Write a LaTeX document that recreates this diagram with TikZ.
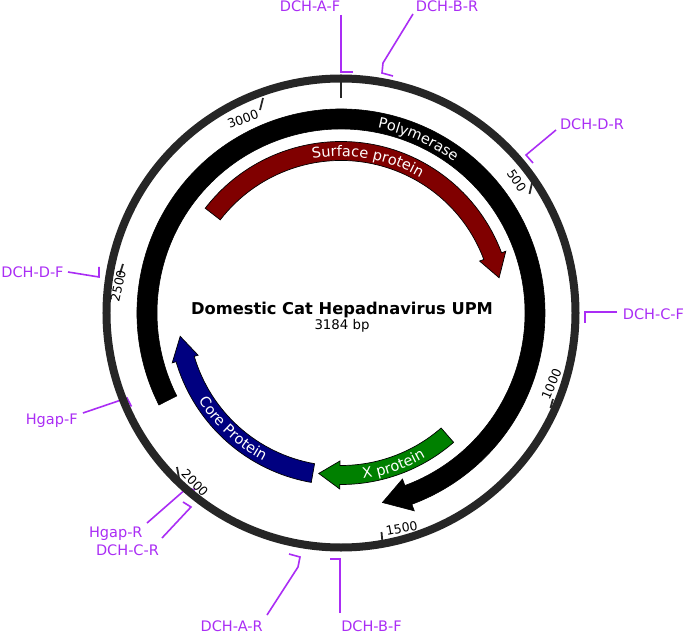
\documentclass[tikz,border=0pt]{standalone}
\usepackage{fontspec}
\setmainfont{DejaVu Sans}
\usetikzlibrary{decorations.text}
\definecolor{ringc}{HTML}{262626}
\definecolor{primc}{RGB}{170,45,245}
\definecolor{surfc}{HTML}{800000}
\definecolor{corec}{HTML}{000080}
\definecolor{xprc}{HTML}{008000}
% feature arrow: #1 style, #2 start bp, #3 end bp (unwrapped), #4 mid radius, #5 half width, #6 head half width, #7 head length (deg)
\newcommand\featarrow[7]{%
  \pgfmathsetmacro\myaS{90-(#2)/3184*360}%
  \pgfmathsetmacro\myaE{90-(#3)/3184*360}%
  \pgfmathsetmacro\myaB{\myaE+#7}%
  \pgfmathsetmacro\myrO{#4+#5}%
  \pgfmathsetmacro\myrI{#4-#5}%
  \pgfmathsetmacro\myhO{#4+#6}%
  \pgfmathsetmacro\myhI{#4-#6}%
  \draw[#1] (\myaS:\myrO) arc[start angle=\myaS, end angle=\myaB, radius=\myrO]
    -- (\myaB:\myhO) -- (\myaE:#4) -- (\myaB:\myhI) -- (\myaB:\myrI)
    arc[start angle=\myaB, end angle=\myaS, radius=\myrI] -- cycle;
}
\tikzset{
  primer/.style={draw=primc, line width=1.6pt, line join=miter},
  primlabel/.style={text=primc, font=\fontsize{14.5}{17}\selectfont, anchor=base, inner sep=0pt},
  ticklabel/.style={text=black, font=\fontsize{12.5}{15}\selectfont, inner sep=0pt},
  tickline/.style={draw=ringc, line width=2.4pt},
  featlabel/.style={decorate, decoration={text along path, text align=center, text color=white}},
}
\begin{document}
\begin{tikzpicture}[x=1pt,y=1pt]
\useasboundingbox[fill=white] (-341,-321) rectangle (344,313);
% ---------- primers (image coordinates) ----------
\begin{scope}[x=1pt, y=-1pt, shift={(-341pt,313pt)}]
  \node[primlabel] (laf) at (310,11.7) {DCH-A-F};
  \node[primlabel] (lbr) at (447,11.7) {DCH-B-R};
  \node[primlabel] (ldr) at (592,130) {DCH-D-R};
  \node[primlabel] (lcf) at (653.5,320) {DCH-C-F};
  \node[primlabel] (ldf) at (32.5,277.3) {DCH-D-F};
  \node[primlabel] (lhf) at (51.7,424) {Hgap-F};
  \node[primlabel] (lhr) at (115.8,537.7) {Hgap-R};
  \node[primlabel] (lcr) at (127.5,555) {DCH-C-R};
  \node[primlabel] (lar) at (231.7,631.5) {DCH-A-R};
  \node[primlabel] (lbf) at (371.5,631.5) {DCH-B-F};
  \coordinate (paf0) at (341,15);   \coordinate (paf1) at (341,72);  \coordinate (paf2) at (353,72);
  \coordinate (pbr0) at (413,14);   \coordinate (pbr1) at (383,63);  \coordinate (pbr2) at (382,73); \coordinate (pbr3) at (393,76);
  \coordinate (pdr0) at (556,130);  \coordinate (pdr1) at (526,155); \coordinate (pdr2) at (533,163);
  \coordinate (pcf0) at (617,312);  \coordinate (pcf1) at (585,312); \coordinate (pcf2) at (585,323);
  \coordinate (pdf0) at (68,272);   \coordinate (pdf1) at (99,277);  \coordinate (pdf2) at (99,267);
  \coordinate (phf0) at (83,413);   \coordinate (phf1) at (127,398); \coordinate (phf2) at (131.5,406.5);
  \coordinate (phr0) at (147,523);  \coordinate (phr1) at (187,488); \coordinate (phr2) at (195,490);
  \coordinate (pcr0) at (162,538);  \coordinate (pcr1) at (191,507); \coordinate (pcr2) at (183,502);
  \coordinate (par0) at (267,615);  \coordinate (par1) at (298,567); \coordinate (par2) at (300,557); \coordinate (par3) at (289,554);
  \coordinate (pbf0) at (340,613);  \coordinate (pbf1) at (340,559); \coordinate (pbf2) at (330,559);
  \draw[primer] (paf0) -- (paf1) -- (paf2);
  \draw[primer] (pbr0) -- (pbr1) -- (pbr2) -- (pbr3);
  \draw[primer] (pdr0) -- (pdr1) -- (pdr2);
  \draw[primer] (pcf0) -- (pcf1) -- (pcf2);
  \draw[primer] (pdf0) -- (pdf1) -- (pdf2);
  \draw[primer] (phf0) -- (phf1) -- (phf2);
  \draw[primer] (phr0) -- (phr1) -- (phr2);
  \draw[primer] (pcr0) -- (pcr1) -- (pcr2);
  \draw[primer] (par0) -- (par1) -- (par2) -- (par3);
  \draw[primer] (pbf0) -- (pbf1) -- (pbf2);
\end{scope}
% ---------- backbone ----------
\draw[ringc, line width=8pt] (0,0) circle[radius=234.5];
% ---------- ticks and tick labels (image coordinates) ----------
\begin{scope}[x=1pt, y=-1pt, shift={(-341pt,313pt)}]
  \coordinate (t0a) at (341,82);   \coordinate (t0b) at (341,98);
  \coordinate (t5a) at (532,183);  \coordinate (t5b) at (529.5,194);
  \coordinate (t10a) at (553,399); \coordinate (t10b) at (550.5,408);
  \coordinate (t15a) at (382.5,543); \coordinate (t15b) at (381.5,532);
  \coordinate (t20a) at (179,478); \coordinate (t20b) at (177,467);
  \coordinate (t25a) at (123,264); \coordinate (t25b) at (119.5,275);
  \coordinate (t30a) at (263,98);  \coordinate (t30b) at (260,110);
  \draw[tickline] (t0a) -- (t0b);
  \draw[tickline, line width=1.8pt] (t5a) -- (t5b);
  \draw[tickline, line width=1.8pt] (t10a) -- (t10b);
  \draw[tickline, line width=1.8pt] (t15a) -- (t15b);
  \draw[tickline, line width=1.8pt] (t20a) -- (t20b);
  \draw[tickline, line width=1.8pt] (t25a) -- (t25b);
  \draw[tickline, line width=1.8pt] (t30a) -- (t30b);
  \node[ticklabel, rotate=-56.5] (n500) at (516.7,180.8) {500};
  \node[ticklabel, rotate=66.9] (n1000) at (551.5,384) {1000};
  \node[ticklabel, rotate=10.4] (n1500) at (401.7,528.3) {1500};
  \node[ticklabel, rotate=-46.1] (n2000) at (195,483) {2000};
  \node[ticklabel, rotate=77.3] (n2500) at (118.3,285.8) {2500};
  \node[ticklabel, rotate=20.8] (n3000) at (243,119) {3000};
\end{scope}
% ---------- features ----------
\featarrow{fill=black, draw=black, line width=0.6pt}{2151}{4667}{194}{10}{17}{8}
\featarrow{fill=surfc, draw=black, line width=0.7pt}{2721}{3869}{162}{9.5}{14}{8}
\featarrow{fill=corec, draw=black, line width=0.7pt}{1680}{2315}{162.5}{9.5}{13.5}{8.2}
\featarrow{fill=xprc, draw=black, line width=0.7pt}{1229}{1662}{162}{9.5}{14}{7.5}
% ---------- feature labels ----------
\path[featlabel, decoration={text={|\fontsize{14.5}{17}\selectfont|Polymerase}}]
  (106:188.7) arc[start angle=106, end angle=26, radius=188.7];
\path[featlabel, decoration={text={|\fontsize{14.5}{17}\selectfont|Surface protein}}]
  (125:156.7) arc[start angle=125, end angle=35, radius=156.7];
\path[featlabel, decoration={text={|\fontsize{14.5}{17}\selectfont|Core Protein}}]
  (-178:167.3) arc[start angle=-178, end angle=-88, radius=167.3];
\path[featlabel, decoration={text={|\fontsize{14.5}{17}\selectfont|X protein}}]
  (-111:167.3) arc[start angle=-111, end angle=-31, radius=167.3];
% ---------- title ----------
\node[font=\fontsize{16.3}{19}\selectfont\bfseries, inner sep=0pt] (title) at (1,3) {Domestic Cat Hepadnavirus UPM};
\node[font=\fontsize{13.3}{16}\selectfont, inner sep=0pt] (size) at (1,-13) {3184 bp};
\end{tikzpicture}
\end{document}
